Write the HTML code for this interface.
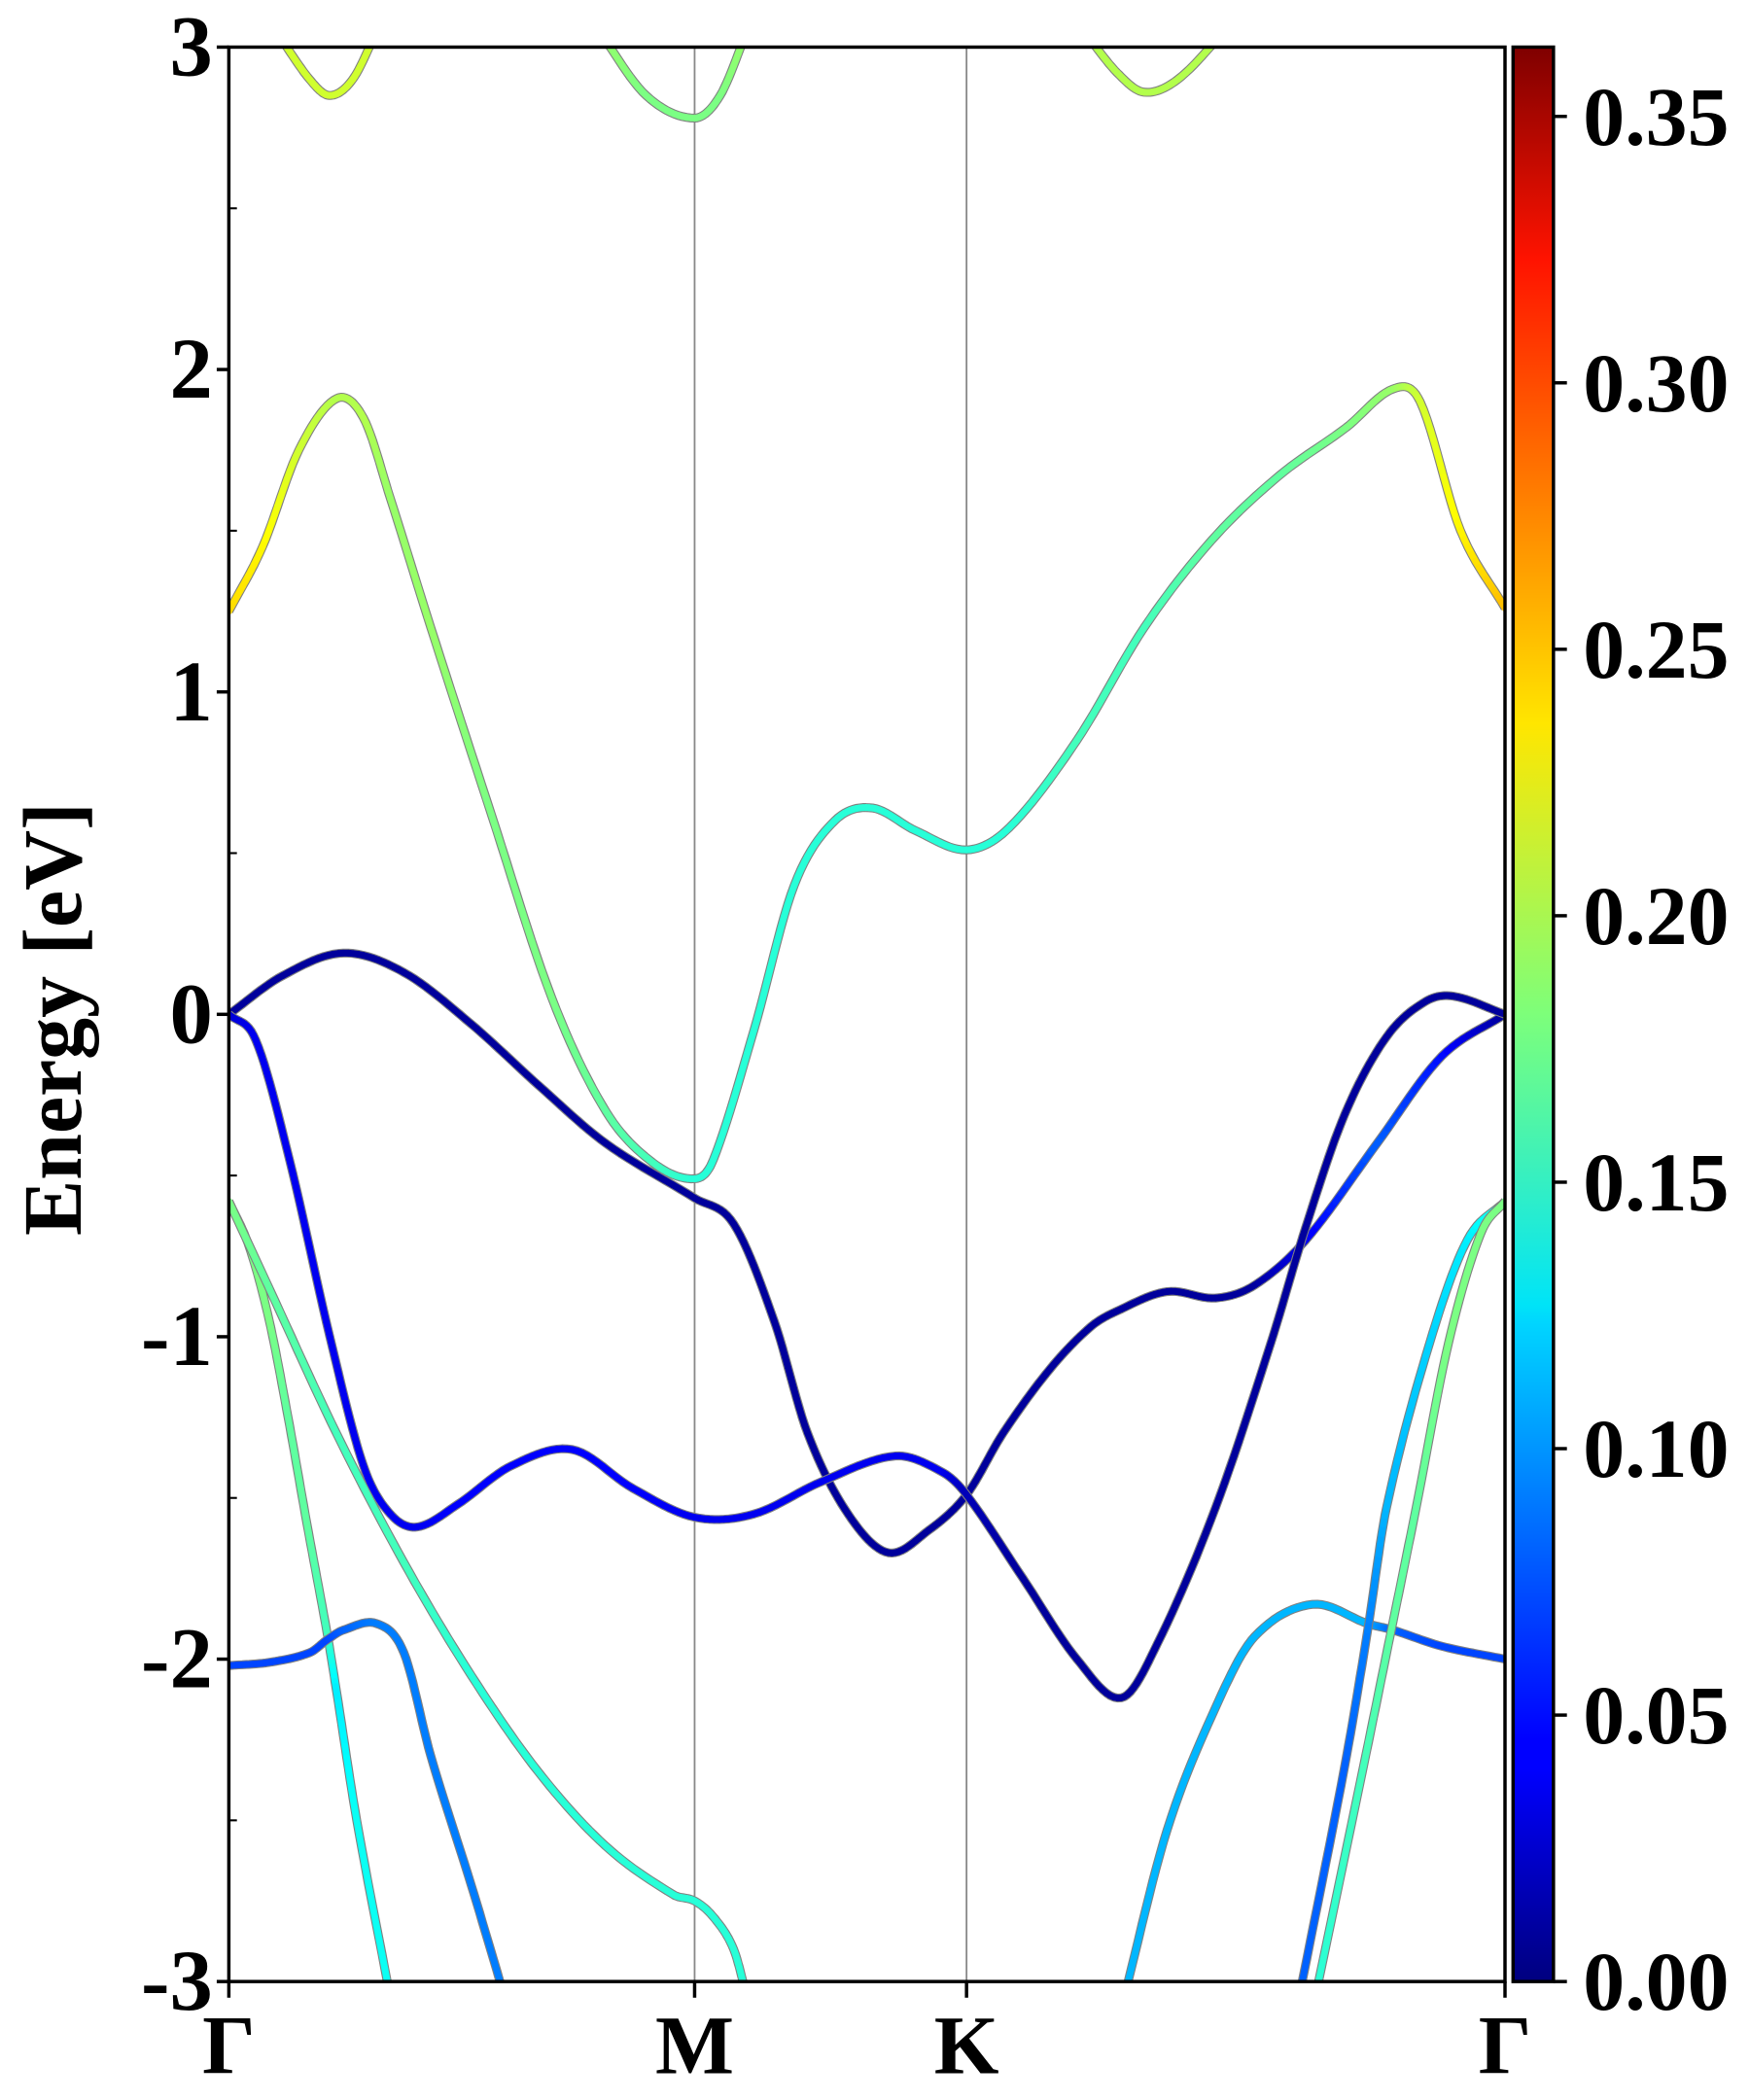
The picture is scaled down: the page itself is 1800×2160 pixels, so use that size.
<!DOCTYPE html>
<html><head><meta charset="utf-8"><style>
html,body{margin:0;padding:0;background:#fff;}
svg{display:block;}
text{font-family:"Liberation Serif",serif;font-weight:bold;fill:#000;}
</style></head><body>
<svg id="chart" width="1800" height="2160" viewBox="0 0 1300 1560" xmlns="http://www.w3.org/2000/svg">
<defs>
<linearGradient id="jet" x1="0" y1="1" x2="0" y2="0">
<stop offset="0" stop-color="#00007f"/><stop offset="0.11" stop-color="#0000ff"/><stop offset="0.125" stop-color="#0000ff"/>
<stop offset="0.34" stop-color="#00d5ff"/><stop offset="0.35" stop-color="#00e4f7"/><stop offset="0.5" stop-color="#7dff7a"/>
<stop offset="0.65" stop-color="#ffe600"/><stop offset="0.89" stop-color="#ff1300"/><stop offset="1" stop-color="#7f0000"/>
</linearGradient>
<clipPath id="plotclip"><rect x="170" y="35" width="948" height="1437"/></clipPath>
</defs>
<g id="bands" clip-path="url(#plotclip)"></g>
<g id="axes"></g>
</svg>
<script>
// k-path coordinate (Γ=0, M=3.46, K=5.48, Γ=9.48); energies in eV; orbital weights
const kTicks = [0, 3.46, 5.48, 9.48];
const kLabels = ["Γ", "M", "K", "Γ"];
const yTicks = [-3, -2, -1, 0, 1, 2, 3];
const cbTicks = [0, 0.05, 0.10, 0.15, 0.20, 0.25, 0.30, 0.35];
const cbMax = 0.363;
const kMax = 9.48;

const bandNames = ["navy-band","blue-band","conduction-band","top-left-band","top-m-band","top-k-band","valence-steep-left","blue-low-left","valence-slow-left","lightblue-right","blue-cyan-right","green-right"];
const bandK = [
 [0,0.4,0.85,1.3,1.8,2.3,2.8,3.46,3.75,4.05,4.3,4.6,4.9,5.2,5.48,5.75,6.1,6.4,6.6,6.97,7.33,7.62,8.0,8.53,9.01,9.48],
 [0,0.2,0.45,0.75,1.0,1.2,1.4,1.7,2.1,2.55,3.0,3.46,3.9,4.4,4.95,5.3,5.48,5.9,6.3,6.63,6.9,7.33,7.74,8.0,8.29,8.6,8.89,9.1,9.48],
 [0,0.25,0.52,0.8,1.0,1.2,1.5,1.95,2.4,2.8,3.15,3.46,3.6,3.9,4.2,4.5,4.78,5.1,5.48,5.8,6.3,6.8,7.3,7.8,8.3,8.65,8.85,9.15,9.48],
 [0.35,0.6,0.75,0.92,1.1],
 [2.75,3.1,3.46,3.65,3.85],
 [6.35,6.6,6.8,7.05,7.4],
 [0,0.15,0.3,0.44,0.58,0.73,0.8,0.95,1.2],
 [0,0.3,0.6,0.73,0.85,1.1,1.3,1.5,1.8,2.05],
 [0,0.3,0.8,1.3,1.8,2.3,2.8,3.3,3.46,3.6,3.75,3.85],
 [6.65,6.97,7.33,7.62,8.05,8.46,8.65,9.01,9.48],
 [7.95,8.29,8.46,8.6,8.92,9.2,9.48],
 [8.07,8.43,8.65,8.82,9.06,9.3,9.48]
];
const bandE = [
 [0,0.12,0.19,0.13,-0.03,-0.22,-0.4,-0.57,-0.65,-0.95,-1.3,-1.55,-1.67,-1.6,-1.49,-1.3,-1.1,-0.97,-0.92,-0.86,-0.88,-0.84,-0.70,-0.40,-0.13,0],
 [0,-0.08,-0.45,-1.0,-1.4,-1.55,-1.59,-1.52,-1.4,-1.35,-1.47,-1.56,-1.55,-1.45,-1.37,-1.42,-1.49,-1.75,-2.0,-2.12,-1.95,-1.53,-1.02,-0.66,-0.31,-0.07,0.04,0.056,0],
 [1.25,1.45,1.75,1.91,1.85,1.6,1.2,0.62,0.05,-0.3,-0.46,-0.51,-0.45,-0.05,0.4,0.6,0.64,0.57,0.51,0.58,0.85,1.2,1.47,1.67,1.82,1.94,1.9,1.5,1.26],
 [3.05,2.9,2.85,2.9,3.05],
 [3.05,2.85,2.78,2.85,3.05],
 [3.05,2.92,2.86,2.9,3.05],
 [-0.58,-0.72,-0.95,-1.25,-1.58,-1.92,-2.1,-2.5,-3.05],
 [-2.02,-2.01,-1.98,-1.94,-1.91,-1.89,-1.98,-2.3,-2.7,-3.05],
 [-0.58,-0.85,-1.3,-1.7,-2.05,-2.35,-2.58,-2.73,-2.75,-2.8,-2.9,-3.05],
 [-3.05,-2.53,-2.15,-1.93,-1.83,-1.89,-1.91,-1.96,-2.0],
 [-3.05,-2.33,-1.91,-1.53,-1.02,-0.7,-0.58],
 [-3.05,-2.33,-1.88,-1.53,-1.02,-0.68,-0.58]
];
const bandW = [
 [0.01,0.01,0.01,0.01,0.01,0.01,0.01,0.01,0.01,0.01,0.01,0.01,0.01,0.01,0.01,0.01,0.01,0.01,0.01,0.01,0.01,0.01,0.04,0.08,0.05,0.01],
 [0.03,0.04,0.04,0.04,0.04,0.04,0.04,0.045,0.045,0.045,0.045,0.04,0.04,0.04,0.04,0.04,0.02,0.01,0.01,0.01,0.01,0.01,0.01,0.01,0.01,0.01,0.01,0.01,0.01],
 [0.24,0.23,0.21,0.2,0.2,0.19,0.19,0.18,0.18,0.17,0.16,0.15,0.15,0.15,0.15,0.15,0.15,0.15,0.15,0.15,0.16,0.16,0.17,0.17,0.18,0.19,0.21,0.23,0.25],
 [0.21,0.21,0.21,0.21,0.21],
 [0.19,0.18,0.18,0.18,0.19],
 [0.2,0.2,0.2,0.2,0.2],
 [0.18,0.18,0.18,0.17,0.17,0.16,0.13,0.14,0.14],
 [0.07,0.07,0.07,0.07,0.08,0.09,0.09,0.09,0.09,0.09],
 [0.18,0.17,0.16,0.16,0.15,0.15,0.15,0.15,0.15,0.15,0.15,0.15],
 [0.11,0.11,0.11,0.11,0.11,0.11,0.08,0.07,0.07],
 [0.08,0.08,0.09,0.11,0.12,0.13,0.15],
 [0.15,0.16,0.17,0.17,0.18,0.18,0.18]
];

const X0=170,X1=1118,Y0=35,Y1=1472;
function xs(k){return X0+k/kMax*(X1-X0);}
function ys(e){return Y1-(e+3)/6*(Y1-Y0);}
function jet(v){
  v=Math.max(0,Math.min(1,v));
  const f=x=>Math.round(255*Math.max(0,Math.min(1,x)));
  const r=f(Math.min(4*v-1.5,-4*v+4.5)),g=f(Math.min(4*v-0.5,-4*v+3.5)),b=f(Math.min(4*v+0.5,-4*v+2.5));
  return `rgb(${r},${g},${b})`;
}
const NS="http://www.w3.org/2000/svg";
function mk(tag,attrs,parent){const el=document.createElementNS(NS,tag);for(const a in attrs)el.setAttribute(a,attrs[a]);parent.appendChild(el);return el;}

const bandsG=document.getElementById('bands');
[1,2].forEach(i=>{
  const l=mk('line',{x1:xs(kTicks[i]),x2:xs(kTicks[i]),y1:Y0,y2:Y1,stroke:'#888','stroke-width':1.3},bandsG);
  
  
});
function sample(K,E,W){
  const pts=[];const n=K.length;
  const X=K.map(xs),Y=E.map(ys);
  const m=[];
  for(let i=0;i<n;i++){
    const a=Math.max(0,i-1),b=Math.min(n-1,i+1);
    m.push((Y[b]-Y[a])/(X[b]-X[a]));
  }
  for(let i=0;i<n-1;i++){
    const h=X[i+1]-X[i];
    for(let s=0;s<12;s++){
      const t=s/12,t2=t*t,t3=t2*t;
      const y=(2*t3-3*t2+1)*Y[i]+(t3-2*t2+t)*h*m[i]+(-2*t3+3*t2)*Y[i+1]+(t3-t2)*h*m[i+1];
      pts.push([X[i]+t*h,y,W[i]+(W[i+1]-W[i])*t]);
    }
  }
  pts.push([X[n-1],Y[n-1],W[n-1]]);
  return pts;
}
bandK.forEach((K,bi)=>{
  const g=mk('g',{},bandsG);
  
  
  const pts=sample(K,bandE[bi],bandW[bi]);
  mk('path',{d:'M'+pts.map(p=>p[0].toFixed(1)+','+p[1].toFixed(1)).join('L'),fill:'none',stroke:'#808080','stroke-width':6.6,'stroke-linejoin':'round'},g);
  for(let i=0;i<pts.length-1;i++){
    mk('line',{x1:pts[i][0],y1:pts[i][1],x2:pts[i+1][0],y2:pts[i+1][1],stroke:jet((pts[i][2]+pts[i+1][2])/2/cbMax),'stroke-width':5,'stroke-linecap':'round'},g);
  }
});

const ax=document.getElementById('axes');
const frame=mk('rect',{x:X0,y:Y0,width:X1-X0,height:Y1-Y0,fill:'none',stroke:'#000','stroke-width':2.5},ax);


yTicks.forEach(t=>{
  const y=ys(t);
  mk('line',{x1:X0-9,x2:X0,y1:y,y2:y,stroke:'#000','stroke-width':2.5},ax);
  const tx=mk('text',{x:X0-12,y:y+21,'text-anchor':'end','font-size':64},ax);
  tx.textContent=String(t);
  
  
});
for(let t=-2.5;t<3;t+=1){const y=ys(t);mk('line',{x1:X0,x2:X0+6,y1:y,y2:y,stroke:'#000','stroke-width':1.5},ax);}
kTicks.forEach((k,i)=>{
  const x=xs(k);
  mk('line',{x1:x,x2:x,y1:Y1,y2:Y1+12,stroke:'#000','stroke-width':2.5},ax);
  const tx=mk('text',{x:x,y:Y1+68,'text-anchor':'middle','font-size':62},ax);
  tx.textContent=kLabels[i];
  
  
});
const yt=mk('text',{x:0,y:0,'text-anchor':'middle','font-size':62,transform:'translate(60,757) rotate(-90)'},ax);
yt.textContent='Energy [eV]';


const CX=1124,CW=30;
const cb=mk('rect',{x:CX,y:Y0,width:CW,height:Y1-Y0,fill:'url(#jet)',stroke:'#000','stroke-width':2.5},ax);


cbTicks.forEach(t=>{
  const y=Y1-t/cbMax*(Y1-Y0);
  mk('line',{x1:CX+CW,x2:CX+CW+10,y1:y,y2:y,stroke:'#000','stroke-width':2.5},ax);
  const tx=mk('text',{x:1176,y:y+21,'font-size':62},ax);
  tx.textContent=t.toFixed(2);
  
  
});
</script>
</body></html>
